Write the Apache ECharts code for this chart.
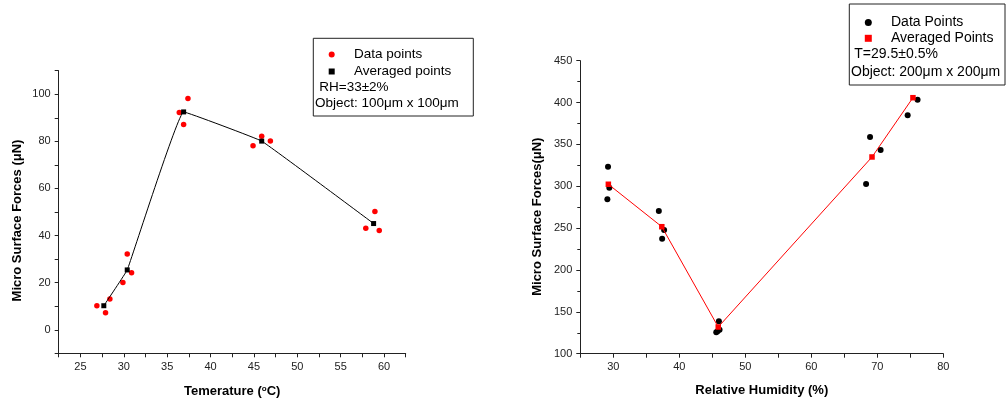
<!DOCTYPE html>
<html>
<head>
<meta charset="utf-8">
<script src="https://cdn.jsdelivr.net/npm/echarts@6/dist/echarts.min.js"></script>
<style>
  html, body { margin: 0; padding: 0; background: #fff; }
  #chart { width: 1006px; height: 404px; }
</style>
</head>
<body>
<div id="chart"></div>
<script>
  // left panel: force vs temperature (RH=33±2%)
  const tempPointsX = [26.9, 27.9, 28.4, 29.9, 30.4, 30.9, 36.4, 36.9, 37.4, 44.9, 45.9, 46.9, 57.9, 58.95, 59.45]
  const tempPointsY = [10.2, 7.2, 13.1, 20.1, 32.2, 24.2, 92.2, 87.2, 98.2, 78.1, 82.2, 80.1, 43.1, 50.2, 42.1]
  const tempAvgX = [27.7, 30.4, 36.9, 45.9, 58.8]
  const tempAvgY = [10.2, 25.4, 92.5, 80.1, 45.1]

  // right panel: force vs relative humidity (T=29.5±0.5%)
  const rhPointsX = [29.2, 29.4, 29.1, 36.9, 37.7, 37.4, 45.6, 45.8, 46.1, 46.0, 68.3, 68.9, 70.5, 74.6, 76.1]
  const rhPointsY = [323.4, 298.3, 284.4, 270.5, 247.8, 237.4, 125.6, 126.8, 128.7, 138.7, 302.7, 358.9, 343.3, 384.8, 403.4]
  const rhAvgX = [29.25, 37.35, 45.9, 69.2, 75.4]
  const rhAvgY = [302.4, 251.7, 131.9, 335.0, 405.8]

  const pairs = (xs, ys) => xs.map((x, i) => [x, ys[i]])

  const FONT = '"Liberation Sans", Arial, sans-serif'
  const squareIcon = 'path://M0,0H10V10H0Z'

  let Echarts = echarts.init(document.getElementById('chart'), null, { renderer: 'canvas' })

  const axisCommon = {
    type: 'value',
    axisLine: { show: true, onZero: false, lineStyle: { color: '#222', width: 1 } },
    axisTick: { show: true, inside: false, length: 4, lineStyle: { color: '#222' } },
    splitLine: { show: false },
    axisLabel: { color: '#222', fontSize: 11, fontFamily: FONT, margin: 8 },
    nameLocation: 'middle',
    nameTextStyle: { color: '#000', fontSize: 13, fontWeight: 'bold', fontFamily: FONT }
  }

  const option = {
    animation: false,
    textStyle: { fontFamily: FONT },
    grid: [
      { left: 58.7, top: 70.7, width: 347, height: 282.6 },
      { left: 580.3, top: 60.7, width: 363, height: 293 }
    ],
    xAxis: [
      {
        ...axisCommon,
        gridIndex: 0,
        min: 22.5, max: 62.5, interval: 2.5,
        axisLabel: { ...axisCommon.axisLabel, formatter: v => (v % 5 === 0 ? v : '') },
        name: 'Temerature ({sup|o}C)',
        nameGap: 31,
        nameTextStyle: {
          ...axisCommon.nameTextStyle,
          rich: { sup: { fontSize: 8, fontWeight: 'bold', verticalAlign: 'top', padding: [0, 0, 6, 0] } }
        }
      },
      {
        ...axisCommon,
        gridIndex: 1,
        min: 25, max: 80, interval: 5,
        axisLabel: { ...axisCommon.axisLabel, formatter: v => (v % 10 === 0 ? v : '') },
        name: 'Relative Humidity (%)',
        nameGap: 30
      }
    ],
    yAxis: [
      {
        ...axisCommon,
        gridIndex: 0,
        min: -10, max: 110, interval: 10,
        axisLabel: { ...axisCommon.axisLabel, formatter: v => (v % 20 === 0 && v >= 0 && v <= 100 ? v : '') },
        name: 'Micro Surface Forces (μN)',
        nameGap: 35,
        nameTextStyle: { ...axisCommon.nameTextStyle, padding: [0, 17, 0, 0] }
      },
      {
        ...axisCommon,
        gridIndex: 1,
        min: 100, max: 450, interval: 50,
        minorTick: { show: true, splitNumber: 2, length: 3, lineStyle: { color: '#222' } },
        name: 'Micro Surface Forces(μN)',
        nameGap: 36,
        nameTextStyle: { ...axisCommon.nameTextStyle, padding: [0, 19, 0, 0] }
      }
    ],
    legend: [
      {
        orient: 'vertical',
        left: 328.7, top: 47.4, padding: 0,
        itemWidth: 6, itemHeight: 6, itemGap: 3.1,
        selectedMode: false,
        textStyle: { color: '#000', fontSize: 13.5, fontFamily: FONT, padding: [0, 0, 0, 14.3] },
        data: [
          { name: 'Data points', icon: 'circle' },
          { name: 'Averaged points', icon: squareIcon }
        ]
      },
      {
        orient: 'vertical',
        left: 864.8, top: 15.5, padding: 0,
        itemWidth: 7, itemHeight: 7, itemGap: 1.8,
        selectedMode: false,
        textStyle: { color: '#000', fontSize: 14, fontFamily: FONT, padding: [0, 0, 0, 14.2] },
        data: [
          { name: 'Data Points', icon: 'circle' },
          { name: 'Averaged Points', icon: squareIcon }
        ]
      }
    ],
    graphic: [
      { type: 'rect', shape: { x: 313.3, y: 38.3, width: 160, height: 77.7 }, style: { fill: 'none', stroke: '#222', lineWidth: 1 } },
      { type: 'text', left: 319.3, top: 80, style: { text: 'RH=33±2%', fill: '#000', fontSize: 13.5, fontFamily: FONT } },
      { type: 'text', left: 315, top: 96.5, style: { text: 'Object: 100μm x 100μm', fill: '#000', fontSize: 13.5, fontFamily: FONT } },
      { type: 'rect', shape: { x: 849.3, y: 4, width: 155.7, height: 81 }, style: { fill: 'none', stroke: '#222', lineWidth: 1 } },
      { type: 'text', left: 854.3, top: 47.3, style: { text: 'T=29.5±0.5%', fill: '#000', fontSize: 14, fontFamily: FONT } },
      { type: 'text', left: 851, top: 64.7, style: { text: 'Object: 200μm x 200μm', fill: '#000', fontSize: 14, fontFamily: FONT } }
    ],
    series: [
      {
        name: 'Data points',
        type: 'scatter',
        xAxisIndex: 0, yAxisIndex: 0,
        symbol: 'circle', symbolSize: 5.5,
        itemStyle: { color: '#ff0000', opacity: 1 },
        data: pairs(tempPointsX, tempPointsY)
      },
      {
        name: 'Averaged points',
        type: 'line',
        xAxisIndex: 0, yAxisIndex: 0,
        smooth: 0.06,
        symbol: squareIcon, symbolSize: 5,
        showAllSymbol: true,
        lineStyle: { color: '#000', width: 1 },
        itemStyle: { color: '#000' },
        data: pairs(tempAvgX, tempAvgY)
      },
      {
        name: 'Data Points',
        type: 'scatter',
        xAxisIndex: 1, yAxisIndex: 1,
        symbol: 'circle', symbolSize: 6,
        itemStyle: { color: '#000', opacity: 1 },
        data: pairs(rhPointsX, rhPointsY)
      },
      {
        name: 'Averaged Points',
        type: 'line',
        xAxisIndex: 1, yAxisIndex: 1,
        symbol: squareIcon, symbolSize: 5.5,
        showAllSymbol: true,
        lineStyle: { color: '#ff0000', width: 1 },
        itemStyle: { color: '#ff0000' },
        data: pairs(rhAvgX, rhAvgY)
      }
    ]
  }

  // 绘制图表
  Echarts.setOption(option)
</script>
</body>
</html>
